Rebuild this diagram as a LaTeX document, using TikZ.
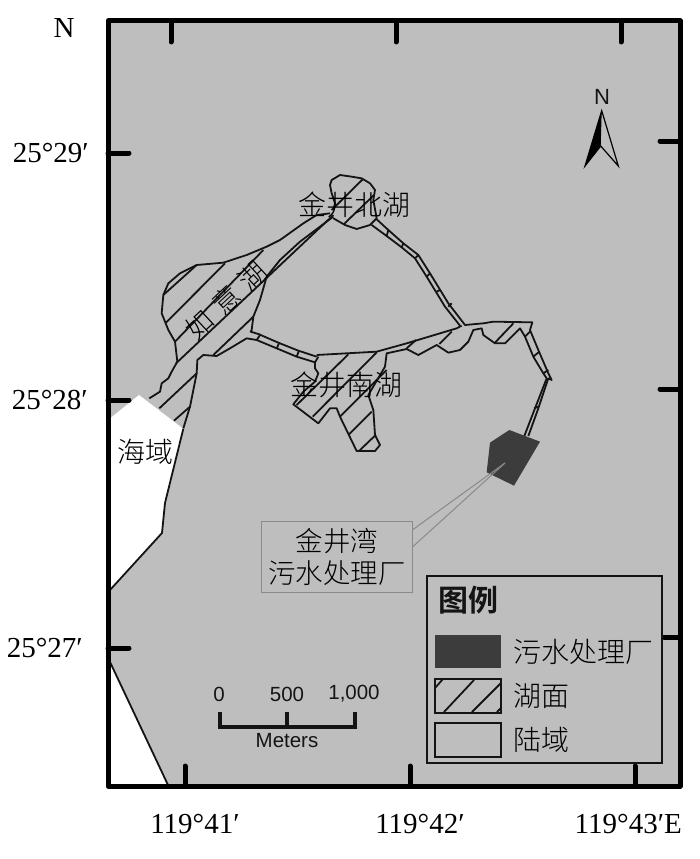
\documentclass[tikz,border=0pt]{standalone}
\usepackage{fontspec}
\setmainfont{Liberation Serif}
\newfontfamily\arialf{Liberation Sans}
\newfontfamily\cjk{Noto Sans CJK SC Light}
\newfontfamily\cjkbold{Noto Sans CJK SC Bold}
\definecolor{landgrey}{HTML}{BEBEBE}
\definecolor{plantgrey}{HTML}{3C3C3C}
\definecolor{boxgrey}{HTML}{8A8A8A}
\definecolor{ink}{HTML}{141414}
\tikzset{
  frameline/.style={line width=5pt,black,line join=round},
  ticks/.style={line width=5pt,black,line cap=round},
  coast/.style={line width=1.8pt,ink,line join=round},
  hatchline/.style={line width=1.8pt,ink},
  coordlabel/.style={inner sep=0pt,font=\fontsize{29}{29}\selectfont,text=black},
  cjklabel/.style={inner sep=0pt,font=\cjk\fontsize{28}{28}\selectfont,text=black},
  scalelabel/.style={inner sep=0pt,font=\arialf\fontsize{20.5}{20.5}\selectfont,text=ink},
  zoomA/.style={shift={(100,160)},scale=1/3},
  zoomB/.style={shift={(280,160)},scale=1/3}
}
\begin{document}
\begin{tikzpicture}[x=1pt,y=-1pt]
\useasboundingbox (0,0) rectangle (700,859);
\fill[white] (0,0) rectangle (700,859);
% land and sea
\fill[landgrey] (108,21) rectangle (680,786);
\fill[white] (108,420) -- (139,395) -- (183.3,428.8) -- (165,503) -- (162,533) -- (108,592) -- cycle;
\fill[white] (108,658) -- (168,786) -- (108,786) -- cycle;
\draw[coast] (183.3,428.8) -- (165,503) -- (162,533) -- (110,590);
\draw[coast] (110,662) -- (168,785);
% lakes, west part
\begin{scope}[zoomA]
\draw[coast] (690,160) -- (650,165) -- (610,190) -- (540,240) -- (500,260) -- (440,285) -- (370,308) -- (290,315) -- (240,340) -- (205,370) -- (190,405) -- (185,460) -- (205,510) -- (225,545) -- (232,605) -- (215,635) -- (205,655) -- (185,670) -- (180,695) -- (148,715);
\draw[coast] (250,805) -- (270,740) -- (290,640) -- (292,600) -- (310,585) -- (350,588) -- (390,565) -- (440,535) -- (470,540) -- (530,565) -- (590,590) -- (645,607);
\draw[coast] (700,170) -- (600,245) -- (540,300) -- (500,350) -- (480,420) -- (460,470) -- (455,510) -- (452,515) -- (475,522) -- (535,548) -- (595,572) -- (650,590);
\draw[hatchline] (190,405) -- (290,315);
\draw[hatchline] (198,488) -- (375,310);
\draw[hatchline] (225,545) -- (490,270);
\draw[hatchline] (228,610) -- (700,165);
\draw[hatchline] (340,585) -- (460,470);
\draw[hatchline] (178,745) -- (290,640);
\draw[hatchline] (222,782) -- (270,740);
\draw[hatchline] (470,540) -- (482,522);
\draw[hatchline] (530,565) -- (538,548);
\draw[hatchline] (590,590) -- (597,572);
\draw[hatchline] (645,607) -- (655,590);
\end{scope}
% lakes, north and east part
\begin{scope}[zoomB]
% north lake
\draw[coast] (160,175) -- (195,195) -- (230,207) -- (270,195) -- (290,175) -- (280,120) -- (285,90) -- (270,70) -- (245,55) -- (215,50) -- (180,45) -- (155,60) -- (150,75) -- (155,100) -- (165,130) -- (160,150);
\draw[hatchline] (155,150) -- (248,58);
\draw[hatchline] (192,192) -- (282,105);
% NE channel
\draw[coast] (275,195) -- (320,228) -- (365,262) -- (405,295) -- (440,350) -- (495,440) -- (540,497);
\draw[coast] (290,178) -- (325,210) -- (370,250) -- (415,285) -- (450,340) -- (505,430) -- (555,495) -- (610,490) -- (640,485) -- (757,487) -- (750,510) -- (775,570) -- (805,640) -- (815,660) -- (805,655) -- (775,745) -- (745,828);
\draw[hatchline] (320,228) -- (325,210);
\draw[hatchline] (365,262) -- (370,250);
\draw[hatchline] (405,295) -- (415,285);
\draw[hatchline] (440,350) -- (450,340);
\draw[hatchline] (470,395) -- (480,390);
\draw[hatchline] (505,440) -- (515,430);
% south lake top edge
\draw[coast] (110,585) -- (200,580) -- (290,575) -- (380,550) -- (530,505) -- (545,497);
% south lake and east arm lower edge
\draw[coast] (105,603) -- (105,625) -- (115,640) -- (105,665) -- (70,695) -- (40,733) -- (115,790) -- (150,745) -- (170,745) -- (180,770) -- (230,873) -- (285,873) -- (300,855) -- (285,825) -- (280,750) -- (265,705) -- (315,620) -- (320,580) -- (380,567) -- (415,585) -- (470,555) -- (505,578) -- (540,570) -- (565,545) -- (580,510) -- (605,505) -- (610,525) -- (645,550) -- (675,550) -- (720,505) -- (735,530) -- (760,590) -- (790,640) -- (800,655) -- (765,745) -- (733,828);
\draw[hatchline] (50,735) -- (205,583);
\draw[hatchline] (98,770) -- (290,577);
\draw[hatchline] (180,770) -- (320,630);
\draw[hatchline] (205,825) -- (275,755);
\draw[hatchline] (238,872) -- (287,825);
\draw[hatchline] (380,565) -- (408,540);
\draw[hatchline] (478,552) -- (515,515);
\draw[hatchline] (645,548) -- (700,490);
\draw[hatchline] (735,530) -- (750,515);
\draw[hatchline] (760,590) -- (778,575);
\draw[hatchline] (790,640) -- (805,630);
\draw[hatchline] (762,745) -- (775,740);
% plant
\fill[plantgrey] (630,848) -- (688,810) -- (780,845) -- (702,977) -- (620,937) -- cycle;
\end{scope}
% callout
\node[draw=boxgrey,line width=1pt,inner sep=0pt,minimum width=151pt,minimum height=71.5pt,anchor=north west,align=center,font=\cjk\fontsize{27.5}{32}\selectfont,text=black] (plantbox) at (261,520.5) {金井湾\\污水处理厂};
\coordinate (plantpoint) at (505,463);
\draw[boxgrey,line width=1pt] (plantbox.north east) ++(0,9) -- (plantpoint);
\draw[boxgrey,line width=1pt] (plantbox.north east) ++(0,26) -- (plantpoint);
% frame and ticks
\draw[ticks] (171,21) -- (171,42) (396,21) -- (396,42) (621,21) -- (621,42);
\draw[ticks] (185,786) -- (185,766) (410,786) -- (410,766) (635,786) -- (635,766);
\draw[ticks] (108,153) -- (129,153) (108,400) -- (129,400) (108,648) -- (129,648);
\draw[ticks] (680,141) -- (660,141) (680,389) -- (660,389) (680,637) -- (664,637);
\draw[frameline] (108,21) rectangle (680,786);
% labels on the map
\node[cjklabel] (beihu) at (354,205) {金井北湖};
\node[cjklabel] (nanhu) at (346,385) {金井南湖};
\node[cjklabel] (haiyu) at (145,452) {海域};
\node[cjklabel,rotate=43,font=\cjk\fontsize{27}{27}\selectfont] (ruyi) at (226,300) {如\hspace{9pt}意\hspace{9pt}湖};
% north arrow
\node[inner sep=0pt,font=\arialf\fontsize{22}{22}\selectfont,text=ink] (northn) at (602,97) {N};
\fill[black] (601.7,110.7) -- (585,166) -- (600.7,146) -- cycle;
\draw[line width=1.2pt,black,line join=miter] (601.7,110.7) -- (618.3,166) -- (600.7,146) -- (585,166) -- cycle;
% scale bar
\draw[line width=3.5pt,ink,line join=miter] (220,712) -- (220,727) -- (355,727) -- (355,712);
\draw[line width=3.5pt,ink] (287,712) -- (287,727);
\node[scalelabel] (s0) at (219,694) {0};
\node[scalelabel] (s500) at (287,694) {500};
\node[scalelabel] (s1000) at (354,694) {1,000};
\node[scalelabel] (smeters) at (287,741) {Meters};
% legend
\fill[landgrey] (427,576) rectangle (662,763);
\draw[line width=1.5pt,ink] (427,576) rectangle (662,763);
\node[inner sep=0pt,font=\cjkbold\fontsize{30}{30}\selectfont,text=ink] (legtitle) at (468,600) {图例};
\fill[plantgrey] (435,635) rectangle (501,668);
\draw[line width=1.3pt,ink] (435,679) rectangle (501,713);
\draw[hatchline] (435,688) -- (443,679);
\draw[hatchline] (444,712) -- (474,680);
\draw[hatchline] (472,712) -- (501,683);
\draw[hatchline] (497,712) -- (501,708);
\draw[line width=1.3pt,ink] (435,723) rectangle (501,757);
\node[cjklabel,anchor=west] (leg1) at (513,652) {污水处理厂};
\node[cjklabel,anchor=west] (leg2) at (513,696) {湖面};
\node[cjklabel,anchor=west] (leg3) at (513,740) {陆域};
% coordinate labels
\node[coordlabel] (latn) at (64,28) {N};
\node[coordlabel,anchor=east] (lat29) at (89,153) {25°29′};
\node[coordlabel,anchor=east] (lat28) at (88,400) {25°28′};
\node[coordlabel,anchor=east] (lat27) at (83,648) {25°27′};
\node[coordlabel] (lon41) at (195,824) {119°41′};
\node[coordlabel] (lon42) at (420,824) {119°42′};
\node[coordlabel,anchor=east] (lon43) at (682,824) {119°43′E};
\end{tikzpicture}
\end{document}
